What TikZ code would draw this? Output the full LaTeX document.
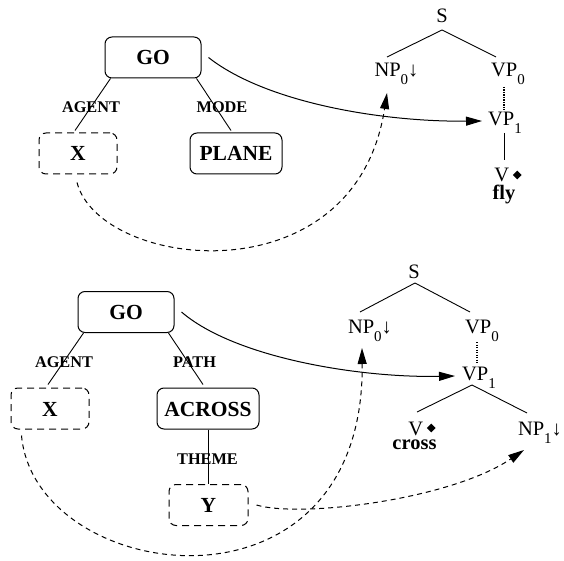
\documentclass[tikz,border=0pt]{standalone}
\usepackage{fontspec}
\setmainfont{Liberation Serif}
\usetikzlibrary{arrows.meta,calc}
\newcommand\sbs[1]{\smash{\raisebox{-8pt}{\fontsize{15}{15}\selectfont #1}}}
\newcommand\dmd{\hspace{3.5pt}\smash{\raisebox{2.6pt}{\rotatebox{45}{\rule{6.2pt}{6.2pt}}}}}
\newcommand\dn{↓}
\begin{document}
\begin{tikzpicture}[x=1pt,y=-1pt,
  box/.style={draw, line width=1pt, rounded corners=7pt, minimum height=41pt, inner sep=0pt,
    font=\fontsize{21.5}{21.5}\selectfont\bfseries, text height=15pt, text depth=0pt},
  dbox/.style={box, dash pattern=on 7pt off 5pt},
  rel/.style={font=\fontsize{16.3}{16.3}\selectfont\bfseries, inner sep=0pt, text height=11pt, text depth=0pt},
  cat/.style={font=\fontsize{20.5}{20.5}\selectfont, inner sep=0pt, anchor=base},
  lex/.style={font=\fontsize{20.5}{20.5}\selectfont\bfseries, inner sep=0pt, anchor=base},
  branch/.style={line width=0.9pt},
  dotbranch/.style={line width=1.2pt, dash pattern=on 1.2pt off 1.3pt},
  arc/.style={-{Triangle[length=16pt,width=9pt]}, line width=1pt},
  darc/.style={arc, dash pattern=on 5pt off 4pt}]
\useasboundingbox (0,0) rectangle (564,561);

% ---------- top ----------
\node[box, minimum width=96pt] (go1) at (153,57.5) {GO};
\node[dbox, minimum width=78pt] (x1) at (78,153.5) {X};
\node[box, minimum width=92pt] (plane) at (236,153.5) {PLANE};
\node[rel] (agent1) at (91,107.5) {AGENT};
\node[rel] (mode) at (222,107.5) {MODE};
\draw[branch] ($(go1.south west)+(6,0)$) -- ($(x1.north)+(-3,-2)$);
\draw[branch] ($(go1.south east)+(-5,0)$) -- ($(plane.north)+(-5,-2)$);

\node[cat] (s1) at (442,23) {S};
\node[cat] (np01) at (396.5,77) {NP\sbs{0}\dn};
\node[cat] (vp01) at (508,77) {VP\sbs{0}};
\node[cat] (vp11) at (505,126) {VP\sbs{1}};
\node[cat] (v1) at (508,182) {V\dmd};
\node[lex] (fly) at (504,200) {fly};
\draw[branch] ($(s1.base)+(0,7)$) -- ($(np01.base)+(-9.5,-20)$);
\draw[branch] ($(s1.base)+(0,7)$) -- ($(vp01.base)+(-12,-20)$);
\draw[dotbranch] ($(vp01.base)+(-4,10)$) -- ($(vp11.base)+(-1,-16)$);
\draw[branch] ($(vp11.base)+(-1,7)$) -- ($(v1.base)+(-4,-22)$);

\draw[arc] ($(go1.east)+(7,0)$) .. controls (265,102) and (380,122) .. ($(vp11.base)+(-23,-5)$);
\draw[darc] ($(x1.south)+(-1,8)$) .. controls (100,270) and (355,300) .. ($(np01.base)+(-9.5,16)$);

% ---------- bottom ----------
\node[box, minimum width=96pt] (go2) at (126,312) {GO};
\node[dbox, minimum width=78pt] (x2) at (50,408.5) {X};
\node[box, minimum width=102pt] (across) at (208,408.5) {ACROSS};
\node[dbox, minimum width=79pt] (y) at (208.5,505) {Y};
\node[rel] (agent2) at (64,361.5) {AGENT};
\node[rel] (path) at (194.5,361.5) {PATH};
\node[rel] (theme) at (207.5,458.5) {THEME};
\draw[branch] ($(go2.south west)+(6,0)$) -- ($(x2.north)+(-2,-3)$);
\draw[branch] ($(go2.south east)+(-6,0)$) -- ($(across.north)+(-5,-3)$);
\draw[branch] (across.south) -- (across.south |- y.north);

\node[cat] (s2) at (414,278) {S};
\node[cat] (np02) at (370,333) {NP\sbs{0}\dn};
\node[cat] (vp02) at (482,333) {VP\sbs{0}};
\node[cat] (vp12) at (479,380) {VP\sbs{1}};
\node[cat] (v2) at (422,435) {V\dmd};
\node[lex] (cross) at (414.5,449) {cross};
\node[cat] (np12) at (540,435) {NP\sbs{1}\dn};
\draw[branch] ($(s2.base)+(1,5)$) -- ($(np02.base)+(-10,-21)$);
\draw[branch] ($(s2.base)+(1,5)$) -- ($(vp02.base)+(-12,-21)$);
\draw[dotbranch] ($(vp02.base)+(-5,9)$) -- ($(vp12.base)+(-2,-17)$);
\draw[branch] ($(vp12.base)+(-7,5)$) -- ($(v2.base)+(-5,-23)$);
\draw[branch] ($(vp12.base)+(-7,5)$) -- ($(np12.base)+(-13,-22)$);

\draw[arc] ($(go2.east)+(7,0)$) .. controls (235,358) and (360,378) .. ($(vp12.base)+(-24,-4)$);
\draw[darc] ($(x2.south west)+(11,6)$) .. controls (35,585) and (365,630) .. ($(np02.base)+(-8,15)$);
\draw[darc] ($(y.east)+(8,0)$) .. controls (300,518) and (450,500) .. ($(np12.base)+(-16,15)$);
\end{tikzpicture}
\end{document}
